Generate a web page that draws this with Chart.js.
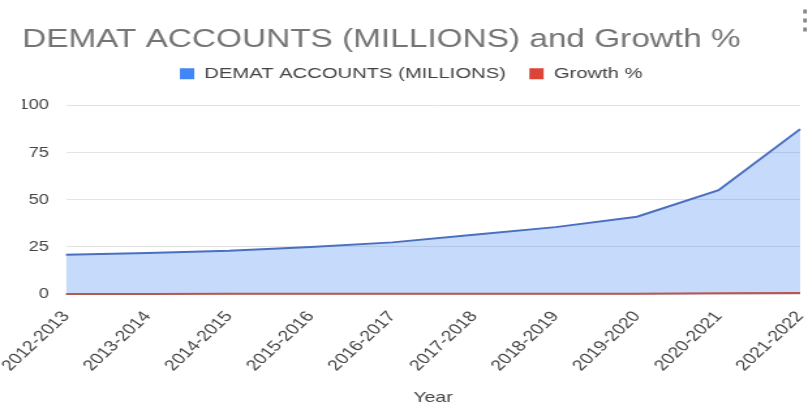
<!DOCTYPE html>
<html>
<head>
<meta charset="utf-8">
<script src="https://cdn.jsdelivr.net/npm/chart.js@4.4.1/dist/chart.umd.min.js"></script>
<style>
  html, body { margin: 0; padding: 0; background: #fff; overflow: hidden; }
  #wrap {
    position: absolute; left: 0; top: 0;
    width: 620px; height: 403px;
    transform: scaleX(1.3032); transform-origin: 0 0;
  }
  #menu {
    position: absolute; left: 792px; top: 5px;
    font: bold 26px "Liberation Sans", Arial, sans-serif; color: #8a8a8a;
  }
</style>
</head>
<body>
<div id="wrap"><canvas id="myChart"></canvas></div>
<div id="menu">&#8942;</div>
<script>
const years = ['2012-2013', '2013-2014', '2014-2015', '2015-2016', '2016-2017',
               '2017-2018', '2018-2019', '2019-2020', '2020-2021', '2021-2022'];
const dematAccounts = [20.8, 21.7, 22.9, 25.0, 27.4, 31.5, 35.5, 41.0, 55.1, 87.5];
const growth = [0, 0.05, 0.07, 0.07, 0.1, 0.15, 0.13, 0.14, 0.35, 0.58];
const yTicks = [0, 25, 50, 75, 100];

const FONT = '"Liberation Sans", Arial, sans-serif';

// push the plot down a bit below the legend row
const legendGap = {
    id: 'legendGap',
    beforeInit(chart) {
        const fit = chart.legend.fit;
        chart.legend.fit = function () {
            fit.call(this);
            this.height += 14;
        };
    }
};

const ctx = document.getElementById('myChart').getContext('2d');

new Chart(ctx, {
    type: 'line',
    data: {
        labels: years,
        datasets: [
            {
                label: 'DEMAT ACCOUNTS (MILLIONS)',
                data: dematAccounts,
                borderColor: '#4a6fbf',
                backgroundColor: 'rgba(66, 133, 244, 0.3)',
                borderWidth: 2,
                pointRadius: 0,
                fill: 'origin',
                order: 2
            },
            {
                label: 'Growth %',
                data: growth,
                borderColor: '#b85650',
                backgroundColor: 'rgba(219, 68, 55, 0.3)',
                borderWidth: 2,
                pointRadius: 0,
                fill: 'origin',
                clip: 4,
                order: 1
            }
        ]
    },
    options: {
        responsive: true,
        maintainAspectRatio: false,
        animation: false,
        layout: { padding: { left: 17, right: 6, top: 0, bottom: 0 } },
        plugins: {
            title: {
                display: true,
                text: 'DEMAT ACCOUNTS (MILLIONS) and Growth %',
                align: 'start',
                color: '#757575',
                font: { family: FONT, size: 25.6, weight: 'normal', lineHeight: 1 },
                padding: { top: 27.5, bottom: -5 }
            },
            legend: {
                labels: {
                    color: '#444',
                    font: { family: FONT, size: 15.5 },
                    boxWidth: 11,
                    boxHeight: 11,
                    padding: 18,
                    sort: (a, b) => a.datasetIndex - b.datasetIndex,
                    generateLabels(chart) {
                        return chart.data.datasets.map((ds, i) => ({
                            text: ds.label,
                            fillStyle: i === 0 ? '#4285f4' : '#db4437',
                            strokeStyle: i === 0 ? '#4285f4' : '#db4437',
                            lineWidth: 0,
                            fontColor: '#444',
                            datasetIndex: i
                        }));
                    }
                }
            },
            tooltip: { enabled: false }
        },
        scales: {
            x: {
                grid: { display: false },
                border: { display: false },
                ticks: {
                    color: '#444',
                    font: { family: FONT, size: 15 },
                    maxRotation: 50,
                    minRotation: 50,
                    padding: 6,
                    autoSkip: false
                },
                title: {
                    display: true,
                    text: 'Year',
                    color: '#444',
                    font: { family: FONT, size: 15 },
                    padding: { top: 0, bottom: -4 }
                },
                afterFit(scale) {
                    scale.paddingLeft = 0;
                    scale.paddingRight = 0;
                    scale.height = 109;
                }
            },
            y: {
                min: 0,
                max: 100,
                border: { display: false },
                grid: { color: '#e3e3e3', drawTicks: false },
                afterBuildTicks(scale) {
                    scale.ticks = yTicks.map(v => ({ value: v }));
                },
                ticks: {
                    color: '#444',
                    font: { family: FONT, size: 14 },
                    padding: 13
                },
                afterFit(scale) {
                    scale.width = 33.6;
                }
            }
        }
    },
    plugins: [legendGap]
});
</script>
</body>
</html>
